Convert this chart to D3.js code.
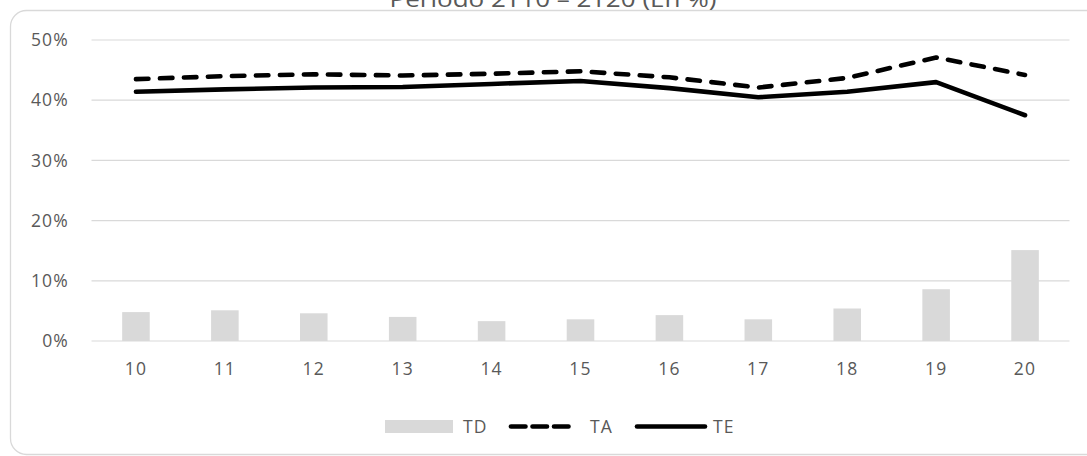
<!DOCTYPE html>
<html><head><meta charset="utf-8">
<script src="https://cdn.jsdelivr.net/npm/d3@7"></script>
<style>body{margin:0;background:#fff;overflow:hidden}text{font-family:"Open Sans",sans-serif}</style>
</head><body><svg id="c" width="1087" height="456"></svg>
<script>
const title = "Periodo 2T10 – 2T20 (En %)";
const categories = ["10","11","12","13","14","15","16","17","18","19","20"];
const TD = [4.8, 5.1, 4.6, 4.0, 3.3, 3.6, 4.3, 3.6, 5.4, 8.6, 15.1];
const TA = [43.5, 44.0, 44.3, 44.1, 44.4, 44.8, 43.8, 42.1, 43.7, 47.1, 44.2];
const TE = [41.4, 41.8, 42.1, 42.2, 42.7, 43.2, 42.0, 40.5, 41.4, 43.0, 37.5];
const yTicks = [0, 10, 20, 30, 40, 50];

const svg = d3.select("#c");
svg.append("rect").attr("x",10.5).attr("y",10.5).attr("width",1100).attr("height",444)
  .attr("rx",16).attr("fill","#fff").attr("stroke","#d9d9d9").attr("stroke-width",1.3);

svg.append("text").attr("x",553).attr("y",7).attr("text-anchor","middle")
  .attr("font-size",21).attr("fill","#595959")
  .attr("textLength",327).attr("lengthAdjust","spacingAndGlyphs").text(title);

const x = d3.scaleBand().domain(categories).range([91.5,1069.5]).paddingInner(0.69).paddingOuter(0.345);
const y = d3.scaleLinear().domain([0,50]).range([341,40]);

const g = svg.append("g");
g.selectAll("line.grid").data(yTicks).join("line").attr("class","grid")
  .attr("x1",91.5).attr("x2",1069.5).attr("y1",d=>y(d)).attr("y2",d=>y(d))
  .attr("stroke","#d9d9d9").attr("stroke-width",1.2);

const yAxis = d3.axisLeft(y).tickValues(yTicks).tickFormat(d=>d+"%").tickSize(0).tickPadding(0);
const ya = svg.append("g").attr("transform","translate(69,0)").call(yAxis);
ya.select(".domain").remove();
ya.selectAll("text").attr("font-size",17.5).attr("fill","#595959").attr("font-family","Open Sans").attr("letter-spacing",1.2);

g.selectAll("rect.bar").data(TD).join("rect").attr("class","bar")
  .attr("x",(d,i)=>x(categories[i])).attr("width",x.bandwidth())
  .attr("y",d=>y(d)).attr("height",d=>y(0)-y(d)).attr("fill","#d9d9d9");

const xAxis = d3.axisBottom(x).tickSize(0).tickPadding(0);
const xa = svg.append("g").attr("transform","translate(0,363)").call(xAxis);
xa.select(".domain").remove();
xa.selectAll("text").attr("font-size",17.5).attr("fill","#595959").attr("font-family","Open Sans").attr("dy","0.71em").attr("letter-spacing",1.2);

const line = d3.line().x((d,i)=>x(categories[i])+x.bandwidth()/2).y(d=>y(d));
g.append("path").datum(TA).attr("d",line).attr("fill","none").attr("stroke","#000")
  .attr("stroke-width",4.6).attr("stroke-dasharray","12.5,11.5").attr("stroke-linecap","round").attr("stroke-linejoin","round");
g.append("path").datum(TE).attr("d",line).attr("fill","none").attr("stroke","#000")
  .attr("stroke-width",4.6).attr("stroke-linecap","round").attr("stroke-linejoin","round");

// legend
const lg = svg.append("g");
lg.append("rect").attr("x",385).attr("y",420).attr("width",68).attr("height",13).attr("fill","#d9d9d9");
lg.append("text").attr("x",463).attr("y",432.5).attr("font-size",17.5).attr("letter-spacing",1.2).attr("fill","#595959").text("TD");
lg.append("line").attr("x1",511).attr("x2",572).attr("y1",426.5).attr("y2",426.5).attr("stroke","#000")
  .attr("stroke-width",4.6).attr("stroke-dasharray","14.5,7").attr("stroke-linecap","round");
lg.append("text").attr("x",590).attr("y",432.5).attr("font-size",17.5).attr("letter-spacing",1.2).attr("fill","#595959").text("TA");
lg.append("line").attr("x1",637).attr("x2",705).attr("y1",426.5).attr("y2",426.5).attr("stroke","#000")
  .attr("stroke-width",4.6).attr("stroke-linecap","round");
lg.append("text").attr("x",713).attr("y",432.5).attr("font-size",17.5).attr("letter-spacing",1.2).attr("fill","#595959").text("TE");
</script></body></html>
